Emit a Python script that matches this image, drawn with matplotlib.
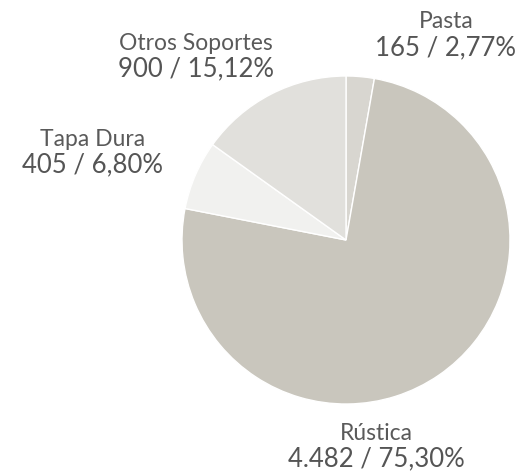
import matplotlib.pyplot as plt

labels = ["Pasta", "Rústica", "Tapa Dura", "Otros Soportes"]
values = [165, 4482, 405, 900]
percents = [2.77, 75.30, 6.80, 15.12]
colors = ["#d8d6d0", "#c9c6bd", "#f1f1ef", "#e1e0dc"]

# label positions in pixels (x center, y of first line)
label_pos = [(446, 22), (376, 433), (93, 139), (196, 43)]

W, H = 529, 473
fig = plt.figure(figsize=(W / 100, H / 100), dpi=100)
cx, cy, r = 346, 240, 164
ax = fig.add_axes([(cx - r) / W, (H - cy - r) / H, 2 * r / W, 2 * r / H])
ax.pie(values, colors=colors, startangle=90, counterclock=False, radius=1,
       wedgeprops=dict(edgecolor="white", linewidth=1))
ax.set_xlim(-1, 1)
ax.set_ylim(-1, 1)
ax.set_aspect("equal")


def fmt_num(v):
    return f"{v:,}".replace(",", ".")


for lab, v, p, (x, y) in zip(labels, values, percents, label_pos):
    fig.text(x / W, 1 - y / H, lab, ha="center", va="center",
             fontsize=16.5, color="#5a5a5a", family="Lato")
    txt = f"{fmt_num(v)} / " + f"{p:.2f}".replace(".", ",") + "%"
    fig.text(x / W, 1 - (y + 26) / H, txt, ha="center", va="center",
             fontsize=18.5, color="#555555", family="Lato")

fig.savefig("out.png", dpi=100)
